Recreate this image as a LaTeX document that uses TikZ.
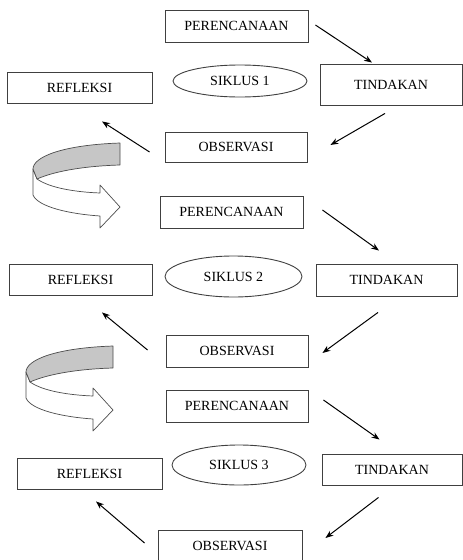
\documentclass[tikz,border=0pt]{standalone}
\usepackage{fontspec}
\setmainfont{Liberation Serif}
\usetikzlibrary{shapes.geometric,arrows.meta}
\begin{document}
\begin{tikzpicture}[x=1pt, y=-1pt,
    box/.style={draw=black!75, line width=0.9pt, inner sep=0pt, font=\fontsize{14}{16}\selectfont},
    oval/.style={ellipse, draw=black!75, line width=0.9pt, inner sep=0pt, font=\fontsize{14}{16}\selectfont},
    flow/.style={line width=1pt, -{Stealth[length=8pt, width=6pt]}},
    ribbon/.style={draw=black!70, line width=0.7pt, line join=round}]
      \useasboundingbox (0, 0) rectangle (463, 560);
      % siklus 1
      \node (plan1) [box, minimum width=143, minimum height=32] at (236.5, 26) {PERENCANAAN};
      \node (tind1) [box, minimum width=142, minimum height=41] at (391, 84.5) {TINDAKAN};
      \node (obs1) [box, minimum width=142, minimum height=30] at (236, 147) {OBSERVASI};
      \node (ref1) [box, minimum width=145, minimum height=31] at (79.5, 87.5) {REFLEKSI};
      \node (sik1) [oval, minimum width=134, minimum height=32] at (240, 81) {SIKLUS 1};
      % siklus 2
      \node (plan2) [box, minimum width=143, minimum height=32] at (231.5, 212) {PERENCANAAN};
      \node (tind2) [box, minimum width=141, minimum height=32] at (386.5, 280) {TINDAKAN};
      \node (obs2) [box, minimum width=142, minimum height=32] at (237, 351) {OBSERVASI};
      \node (ref2) [box, minimum width=143, minimum height=31] at (80.5, 279.5) {REFLEKSI};
      \node (sik2) [oval, minimum width=137, minimum height=41] at (233.5, 276.5) {SIKLUS 2};
      % siklus 3
      \node (plan3) [box, minimum width=142, minimum height=32] at (237, 406) {PERENCANAAN};
      \node (tind3) [box, minimum width=140, minimum height=31] at (392, 469.5) {TINDAKAN};
      \node (obs3) [box, minimum width=144, minimum height=32] at (230, 546) {OBSERVASI};
      \node (ref3) [box, minimum width=145, minimum height=31] at (89.5, 473.5) {REFLEKSI};
      \node (sik3) [oval, minimum width=134, minimum height=40] at (239, 465) {SIKLUS 3};
      % arrows
      \draw [flow] ([shift={(7,-1)}]plan1.east) -- ([shift={(-19,-1)}]tind1.north);
      \draw [flow] ([shift={(-6,8)}]tind1.south) -- ([shift={(23,-2)}]obs1.east);
      \draw [flow] ([shift={(-15,5)}]obs1.west) -- ([shift={(22.5,18)}]ref1.south);
      \draw [flow] ([shift={(19,-2)}]plan2.east) -- ([shift={(-7.5,-13)}]tind2.north);
      \draw [flow] ([shift={(-8.5,16)}]tind2.south) -- ([shift={(14,2)}]obs2.east);
      \draw [flow] ([shift={(-18,-1)}]obs2.west) -- ([shift={(21.5,17)}]ref2.south);
      \draw [flow] ([shift={(15,-6)}]plan3.east) -- ([shift={(-12.5,-14)}]tind3.north);
      \draw [flow] ([shift={(-13.5,12)}]tind3.south) -- ([shift={(23,-8)}]obs3.east);
      \draw [flow] ([shift={(-13,-3)}]obs3.west) -- ([shift={(6.5,12)}]ref3.south);
      % curved block arrows between the cycles
      \foreach \dx/\dy in {0/0, -7/203} {
        \begin{scope}[shift={(\dx,\dy)}]
          \filldraw [ribbon, fill=white] (37, 179) .. controls (50, 188) and (75, 192) .. (100, 193)
                -- (100, 185) -- (120, 207) -- (100, 228) -- (100, 216)
                .. controls (70, 214) and (38, 207) .. (33, 195) -- (33, 169) -- cycle;
          \filldraw [ribbon, fill=gray!45] (120, 143) .. controls (62, 145) and (33, 157) .. (33, 169)
                -- (37, 179) .. controls (55, 171) and (85, 166) .. (120, 165) -- cycle;
        \end{scope}
      }
\end{tikzpicture}
\end{document}
